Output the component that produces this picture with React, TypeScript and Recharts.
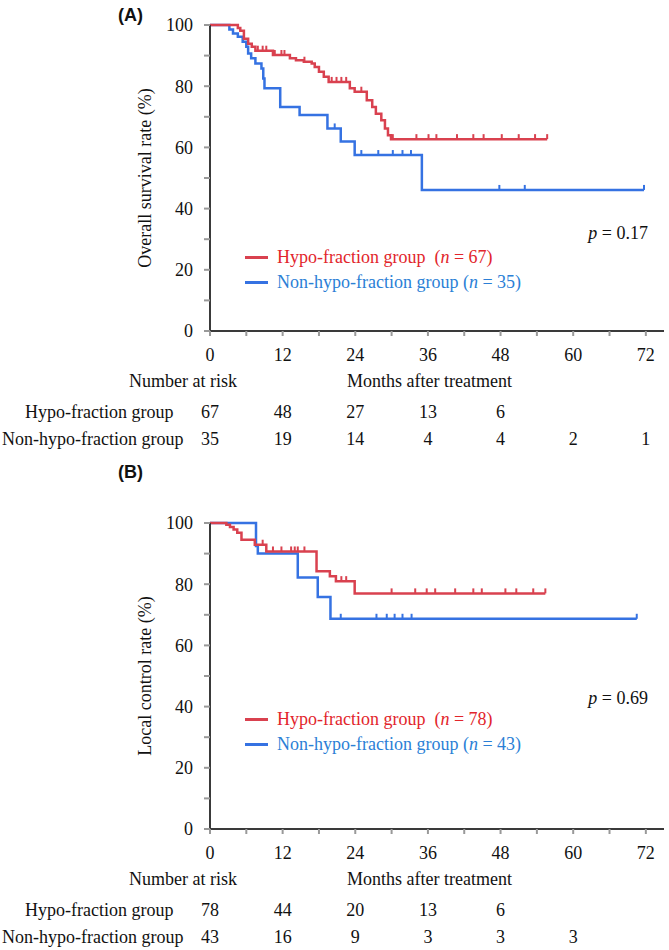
import React from 'react';
import { ComposedChart, Line, Scatter, XAxis, YAxis } from 'recharts';

const RED = '#d9414f';
const BLUE = '#3572e2';
const RED_TEXT = '#e2252b';
const BLUE_TEXT = '#2b7fd6';

const monthTicks = [0, 6, 12, 18, 24, 30, 36, 42, 48, 54, 60, 66, 72];
const pctTicks = [0, 10, 20, 30, 40, 50, 60, 70, 80, 90, 100];
const riskMonths = [0, 12, 24, 36, 48, 60, 72];

// (A) overall survival, [month, %]
const osHypo = [
  [0, 100], [4.6, 99], [5.0, 98.1], [5.6, 95.5], [6.3, 93.9], [6.9, 92.9], [7.5, 91.6],
  [10.4, 90.2], [13.2, 89.1], [14.2, 88.5], [15.5, 88], [16.8, 87.4], [17.3, 86.3],
  [18.0, 84.7], [18.8, 83.1], [19.6, 81.4], [23.1, 79.3], [23.9, 78.2], [25.9, 75.4],
  [26.8, 73.2], [27.4, 71], [28.3, 68.9], [28.9, 66.2], [29.4, 64], [29.9, 62.7], [55.7, 62.7],
];
const osHypoCensor = [7.9, 8.7, 9.3, 10.7, 11.8, 12.3, 15.6, 20.1, 20.9, 21.7, 22.5, 25,
  30.2, 34.1, 36.1, 37.4, 40.8, 43.5, 45.2, 48.2, 51, 53.7, 55.7];
const osNon = [
  [0, 100], [3.2, 98.5], [3.8, 97.2], [4.6, 96.2], [5.4, 94.5], [6.0, 92.9], [6.3, 90.7],
  [6.8, 89.1], [7.5, 87.4], [8.5, 85.8], [8.8, 82.5], [9.0, 79.3], [11.6, 73.2],
  [14.8, 70.6], [19.4, 66.2], [21.6, 61.9], [23.9, 57.5], [35.0, 46.1], [71.7, 46.1],
];
const osNonCensor = [20.6, 25, 27.8, 30.2, 31.8, 33.2, 47.8, 52, 71.7];
const osRiskHypo = [67, 48, 27, 13, 6];
const osRiskNon = [35, 19, 14, 4, 4, 2, 1];

// (B) local control, [month, %]
const lcHypo = [
  [0, 100], [2.7, 99.4], [3.3, 98.7], [3.9, 97.9], [4.5, 96.8], [5.2, 94.5], [7.4, 92.9],
  [9.3, 90.7], [17.6, 84.2], [19.8, 82.6], [20.8, 81], [23.9, 77], [55.4, 77],
];
const lcHypoCensor = [8.7, 10.4, 11.8, 13.4, 14, 14.5, 15.6, 21.7, 22.5,
  30, 33.9, 35.8, 37.2, 40.5, 43.5, 44.9, 48.8, 50.6, 53.4, 55.4];
const lcNon = [
  [0, 100], [7.6, 92.5], [7.9, 90], [14.5, 82.2], [17.8, 75.8], [19.9, 68.7], [70.5, 68.7],
];
const lcNonCensor = [21.6, 27.5, 29.2, 30.5, 31.8, 33.3, 70.5];
const lcRiskHypo = [78, 44, 20, 13, 6];
const lcRiskNon = [43, 16, 9, 3, 3, 3];

const toPoints = (curve) => curve.map(([t, s]) => ({ t, s }));
const levelAt = (curve, t) => {
  let s = curve[0][1];
  curve.forEach(([ct, cs]) => { if (ct <= t) s = cs; });
  return s;
};
const censorPoints = (curve, times) => times.map(t => ({ t, s: levelAt(curve, t) }));

const W = 669;
const H = 381;
const PLOT_LEFT = 210;
const RIGHT = 5;
const X_MAX = 75;
const xPx = m => PLOT_LEFT + (m * (W - RIGHT - PLOT_LEFT)) / X_MAX;
const FONT = '"Liberation Serif", "Times New Roman", serif';

const CensorMark = props => {
  const { cx, cy, fill } = props;
  return <line x1={cx} x2={cx} y1={cy} y2={cy - 5} stroke={fill} strokeWidth={2} />;
};

const abs = (x, y, extra = {}) => ({
  position: 'absolute', left: x, top: y, fontFamily: FONT, fontSize: 18, lineHeight: '20px',
  whiteSpace: 'nowrap', color: '#111', ...extra,
});

const Panel = ({ top, title, titleY, yLabel, hypo, hypoCensor, non, nonCensor, nHypo, nNon,
  pText, pY, legendY, riskHypo, riskNon }) => {
  const tickStyle = { fontFamily: FONT, fontSize: 18, fill: '#111' };
  return (
    <>
      <div style={{ position: 'absolute', left: 0, top }}>
        <ComposedChart width={W} height={H} margin={{ top: 25, right: RIGHT, left: 0, bottom: 20 }}>
          <XAxis dataKey="t" type="number" domain={[0, X_MAX]} ticks={monthTicks} interval={0}
            tickFormatter={v => (v % 12 === 0 ? String(v) : '')} height={30}
            axisLine={{ stroke: '#3a3a3a', strokeWidth: 2 }} tickLine={{ stroke: '#999', strokeWidth: 2 }}
            tickSize={5} tickMargin={12} tick={tickStyle} />
          <YAxis dataKey="s" type="number" domain={[0, 100]} ticks={pctTicks} interval={0}
            tickFormatter={v => (v % 20 === 0 ? String(v) : '')} width={PLOT_LEFT}
            axisLine={{ stroke: '#3a3a3a', strokeWidth: 2 }} tickLine={{ stroke: '#999', strokeWidth: 2 }}
            tickSize={6} tickMargin={11} tick={tickStyle} />
          <Line data={toPoints(non)} dataKey="s" type="stepAfter" stroke={BLUE} strokeWidth={2.5}
            dot={false} isAnimationActive={false} />
          <Line data={toPoints(hypo)} dataKey="s" type="stepAfter" stroke={RED} strokeWidth={2.5}
            dot={false} isAnimationActive={false} />
          <Scatter data={censorPoints(non, nonCensor)} dataKey="s" fill={BLUE} shape={CensorMark}
            isAnimationActive={false} />
          <Scatter data={censorPoints(hypo, hypoCensor)} dataKey="s" fill={RED} shape={CensorMark}
            isAnimationActive={false} />
        </ComposedChart>
      </div>
      <div style={abs(118, top + titleY - 10, { fontFamily: '"Liberation Sans", Arial, sans-serif', fontWeight: 'bold', fontSize: 18 })}>
        {title}
      </div>
      <div style={abs(145, top + 25 + 153, { transform: 'translate(-50%, -50%) rotate(-90deg)' })}>
        {yLabel}
      </div>
      <div style={abs(0, top + pY - 10, { width: 648, textAlign: 'right' })}>
        <i>p</i> = {pText}
      </div>
      <div style={{ position: 'absolute', left: 245, top: top + legendY - 1, width: 23, height: 3, background: RED }} />
      <div style={abs(277, top + legendY - 10, { color: RED_TEXT })}>
        Hypo-fraction group&nbsp; (<i>n</i> = {nHypo})
      </div>
      <div style={{ position: 'absolute', left: 245, top: top + legendY + 24, width: 23, height: 3, background: BLUE }} />
      <div style={abs(277, top + legendY + 15, { color: BLUE_TEXT })}>
        Non-hypo-fraction group (<i>n</i> = {nNon})
      </div>
      <div style={abs(129, top + 371)}>Number at risk</div>
      <div style={abs(347, top + 371)}>Months after treatment</div>
      <div style={abs(25, top + 402)}>Hypo-fraction group</div>
      <div style={abs(2, top + 429)}>Non-hypo-fraction group</div>
      {riskHypo.map((v, i) => (
        <div key={'h' + i} style={abs(xPx(riskMonths[i]), top + 402, { transform: 'translateX(-50%)' })}>{v}</div>
      ))}
      {riskNon.map((v, i) => (
        <div key={'n' + i} style={abs(xPx(riskMonths[i]), top + 429, { transform: 'translateX(-50%)' })}>{v}</div>
      ))}
    </>
  );
};

export default function App() {
  return (
    <div style={{ position: 'absolute', left: 0, top: 0, width: W, height: 950, background: '#fff' }}>
      <Panel top={0} title="(A)" titleY={15} yLabel="Overall survival rate (%)"
        hypo={osHypo} hypoCensor={osHypoCensor} non={osNon} nonCensor={osNonCensor}
        nHypo={67} nNon={35} pText="0.17" pY={233} legendY={257}
        riskHypo={osRiskHypo} riskNon={osRiskNon} />
      <Panel top={498} title="(B)" titleY={-26} yLabel="Local control rate (%)"
        hypo={lcHypo} hypoCensor={lcHypoCensor} non={lcNon} nonCensor={lcNonCensor}
        nHypo={78} nNon={43} pText="0.69" pY={200} legendY={221}
        riskHypo={lcRiskHypo} riskNon={lcRiskNon} />
    </div>
  );
}
